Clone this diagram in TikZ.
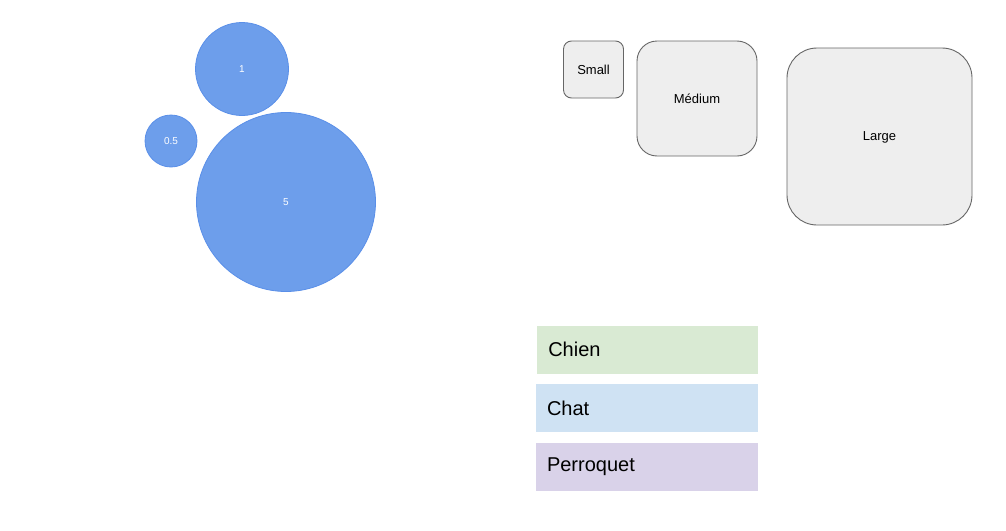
\documentclass[tikz,border=0pt]{standalone}
\usepackage{fontspec}
\setmainfont{Liberation Sans}
\usetikzlibrary{positioning}
\definecolor{bubblefill}{HTML}{6D9EEB}
\definecolor{bubbleline}{HTML}{5A8FE8}
\definecolor{boxfill}{HTML}{EEEEEE}
\definecolor{boxline}{HTML}{666666}
\definecolor{chienfill}{HTML}{D9EAD3}
\definecolor{chatfill}{HTML}{CFE2F3}
\definecolor{perroquetfill}{HTML}{D9D2E9}
\begin{document}
\begin{tikzpicture}[x=1pt,y=-1pt,
    bubble/.style={circle,fill=bubblefill,draw=bubbleline,line width=0.8pt,inner sep=0pt,minimum size=#1,text=white,font=\fontsize{10}{12}\selectfont},
    sizebox/.style={rectangle,fill=boxfill,draw=boxline,line width=0.9pt,rounded corners=#1,inner sep=0pt,text depth=0pt,font=\fontsize{13}{15}\selectfont},
    animal/.style={rectangle,fill=#1,inner xsep=11pt,inner ysep=0pt,minimum height=48pt,align=left,font=\fontsize{20}{24}\selectfont}]
            \path[use as bounding box] (0,0) rectangle (1006,530);

            \foreach \name/\x/\y/\d/\lbl in {one/242/69/93/1,half/171/141/52/0.5,five/286/202/179/5} {
                \node[bubble=\d pt] (\name) at (\x,\y) {\lbl};
            }

            \foreach \name/\x/\y/\w/\h/\r/\lbl in {small/593.5/69.5/60/57/8/Small,medium/697/98.5/120/115/20/Médium,large/879.5/136.5/185/177/30/Large} {
                \node[sizebox=\r pt,minimum width=\w pt,minimum height=\h pt] (\name) at (\x,\y) {\lbl};
            }

            \foreach \name/\x/\y/\w/\lbl in {chien/647.5/349.5/198.5/Chien,chat/647/408/200/Chat,perroquet/647/466.5/200/Perroquet} {
                \node[animal=\name fill,text width=\w pt] (\name) at (\x,\y) {\lbl};
            }
        \end{tikzpicture}
\end{document}
